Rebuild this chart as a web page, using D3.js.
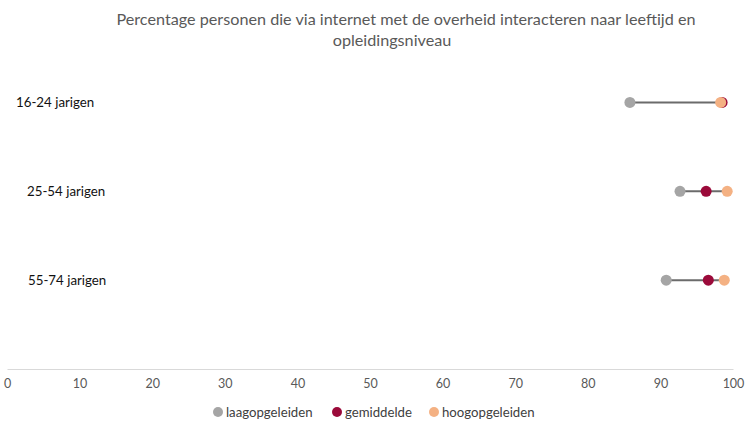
<!doctype html>
<html lang="nl">
<head>
<meta charset="utf-8">
<title>Overheid via internet</title>
<style>
body { margin: 0; background: #fff; font-family: Lato, "Open Sans", sans-serif; }
</style>
</head>
<body>
<div id="chart"></div>
<script src="https://d3js.org/d3.v7.min.js"></script>
<script>
var groups = ["16-24 jarigen", "25-54 jarigen", "55-74 jarigen"];
var series = ["laagopgeleiden", "gemiddelde", "hoogopgeleiden"];
var laag = [85.8, 92.7, 90.8];
var gemiddeld = [98.5, 96.3, 96.6];
var hoog = [98.3, 99.2, 98.8];
var xTicks = [0, 10, 20, 30, 40, 50, 60, 70, 80, 90, 100];
var colors = ["#a5a5a5", "#9b0a3a", "#f4b183"];

var width = 750, height = 423;
var values = [laag, gemiddeld, hoog];

var svg = d3.select("#chart").append("svg")
    .attr("width", width)
    .attr("height", height);

var x = d3.scaleLinear().domain([0, 100]).range([7, 733]);
var y = d3.scaleLinear().domain([0, 3.5]).range([369, 58]);

// title
var title = svg.append("text")
    .attr("text-anchor", "middle")
    .style("font-size", "16.2px")
    .style("fill", "#595959");
title.append("tspan").attr("x", 406).attr("y", 25)
    .text("Percentage personen die via internet met de overheid interacteren naar leeftijd en");
title.append("tspan").attr("x", 392).attr("y", 46)
    .text("opleidingsniveau");

// x axis
var axis = svg.append("g")
    .attr("transform", "translate(0," + y(0) + ")")
    .call(d3.axisBottom(x).tickValues(xTicks).tickSize(0).tickPadding(10));
axis.select(".domain").attr("stroke", "#d9d9d9");
axis.selectAll("text")
    .style("font-size", "12.5px")
    .style("fill", "#595959")
    .style("font-family", "Lato, sans-serif");

// rows
var rows = groups.map(function(g, i) {
    return {name: g, pos: 3 - i, vals: values.map(function(v) { return v[i]; })};
});

// category labels (Excel places them a bit unevenly)
var labelLeft = [16, 27, 28];
svg.selectAll(".cat").data(rows).enter().append("text")
    .attr("class", "cat")
    .attr("x", function(d, i) { return labelLeft[i]; })
    .attr("y", function(d) { return y(d.pos) + 4.5; })
    .style("font-size", "13.3px")
    .style("fill", "#111")
    .text(function(d) { return d.name; });

svg.selectAll(".range").data(rows).enter().append("line")
    .attr("class", "range")
    .attr("x1", function(d) { return x(d3.min(d.vals)); })
    .attr("x2", function(d) { return x(d3.max(d.vals)); })
    .attr("y1", function(d) { return y(d.pos); })
    .attr("y2", function(d) { return y(d.pos); })
    .attr("stroke", "#6b6b6b")
    .attr("stroke-width", 2);

series.forEach(function(s, k) {
    svg.selectAll(".dot" + k).data(rows).enter().append("circle")
        .attr("class", "dot" + k)
        .attr("cx", function(d) { return x(d.vals[k]); })
        .attr("cy", function(d) { return y(d.pos); })
        .attr("r", 5.5)
        .attr("fill", colors[k]);
});

// legend
var legendX = [218, 337, 434];
var legend = svg.selectAll(".leg").data(series).enter().append("g")
    .attr("transform", function(d, i) { return "translate(" + legendX[i] + ",412)"; });
legend.append("circle").attr("r", 5).attr("fill", function(d, i) { return colors[i]; });
legend.append("text")
    .attr("x", 8).attr("y", 4.5)
    .style("font-size", "13.2px")
    .style("fill", "#404040")
    .text(function(d) { return d; });
</script>
</body>
</html>
